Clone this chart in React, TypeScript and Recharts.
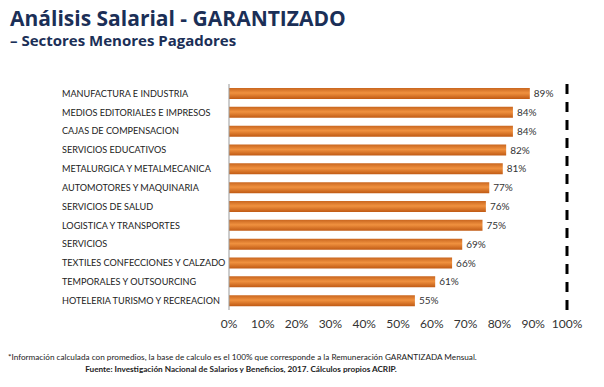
import { BarChart, Bar, XAxis, YAxis, LabelList, ReferenceLine } from 'recharts';

// sectors, top to bottom
const sectores = [
  'MANUFACTURA E INDUSTRIA',
  'MEDIOS EDITORIALES E IMPRESOS',
  'CAJAS DE COMPENSACION',
  'SERVICIOS EDUCATIVOS',
  'METALURGICA Y METALMECANICA',
  'AUTOMOTORES Y MAQUINARIA',
  'SERVICIOS DE SALUD',
  'LOGISTICA Y TRANSPORTES',
  'SERVICIOS',
  'TEXTILES CONFECCIONES Y CALZADO',
  'TEMPORALES Y OUTSOURCING',
  'HOTELERIA TURISMO Y RECREACION',
];

const garantizado = [0.89, 0.84, 0.84, 0.82, 0.81, 0.77, 0.76, 0.75, 0.69, 0.66, 0.61, 0.55];

const xTicks = [0, 0.1, 0.2, 0.3, 0.4, 0.5, 0.6, 0.7, 0.8, 0.9, 1];

const data = sectores.map((sector, i) => ({ sector, valor: garantizado[i] }));

const pct = (v: number) => `${Math.round(v * 100)}%`;

// left-aligned category labels, no wrapping
const SectorTick = (props: any) => {
  const { y, payload } = props;
  return (
    <text x={62} y={y} dy={3.3} textAnchor="start" fontSize={9.1} fill="#222" fontFamily="Lato, sans-serif">
      {payload.value}
    </text>
  );
};

export default function App() {
  return (
    <div
      style={{
        position: 'absolute',
        left: 0,
        top: 0,
        width: 604,
        height: 387,
        background: '#fff',
        fontFamily: 'Lato, sans-serif',
      }}
    >
      <div
        style={{
          position: 'absolute',
          left: 10,
          top: 4,
          fontFamily: '"Open Sans", sans-serif',
          fontWeight: 700,
          fontSize: 21,
          color: '#1b2f57',
          whiteSpace: 'nowrap',
        }}
      >
        Análisis Salarial - GARANTIZADO
      </div>
      <div
        style={{
          position: 'absolute',
          left: 10,
          top: 30,
          fontFamily: '"Open Sans", sans-serif',
          fontWeight: 700,
          fontSize: 15,
          color: '#1b2f57',
          whiteSpace: 'nowrap',
        }}
      >
        – Sectores Menores Pagadores
      </div>

      <BarChart
        width={604}
        height={387}
        data={data}
        layout="vertical"
        margin={{ top: 84, right: 37, bottom: 57, left: 59 }}
        barCategoryGap={4}
      >
        <defs>
          <linearGradient id="naranja" x1="0" y1="0" x2="0" y2="1">
            <stop offset="0%" stopColor="#c9661f" />
            <stop offset="45%" stopColor="#f0913f" />
            <stop offset="100%" stopColor="#c05a14" />
          </linearGradient>
        </defs>
        <XAxis
          type="number"
          domain={[0, 1]}
          ticks={xTicks}
          tickFormatter={pct}
          axisLine={false}
          tickLine={false}
          tickSize={6}
          tickMargin={3}
          height={20}
          tick={{ fontSize: 12, fill: '#333', fontFamily: 'Lato, sans-serif' }}
          interval={0}
        />
        <YAxis
          type="category"
          dataKey="sector"
          width={170}
          axisLine={{ stroke: '#999' }}
          tickLine={false}
          interval={0}
          tick={SectorTick}
        />
        <ReferenceLine x={1} stroke="#000" strokeWidth={3} strokeDasharray="10 8" />
        <Bar dataKey="valor" fill="url(#naranja)" barSize={11} isAnimationActive={false}>
          <LabelList
            dataKey="valor"
            position="right"
            offset={4}
            formatter={(v: any) => pct(Number(v))}
            style={{ fontSize: 10, fill: '#333', fontFamily: 'Lato, sans-serif' }}
          />
        </Bar>
      </BarChart>

      <div
        style={{
          position: 'absolute',
          left: 8,
          top: 352,
          fontSize: 8.2,
          color: '#222',
          fontFamily: 'Lato, sans-serif',
          whiteSpace: 'nowrap',
        }}
      >
        *Información calculada con promedios, la base de calculo es el 100% que corresponde a la Remuneración GARANTIZADA Mensual.
      </div>
      <div
        style={{
          position: 'absolute',
          left: 8,
          width: 466,
          top: 364,
          fontSize: 8.2,
          fontWeight: 700,
          color: '#222',
          textAlign: 'center',
          fontFamily: 'Lato, sans-serif',
          whiteSpace: 'nowrap',
        }}
      >
        Fuente: Investigación Nacional de Salarios y Beneficios, 2017. Cálculos propios ACRIP.
      </div>
    </div>
  );
}
